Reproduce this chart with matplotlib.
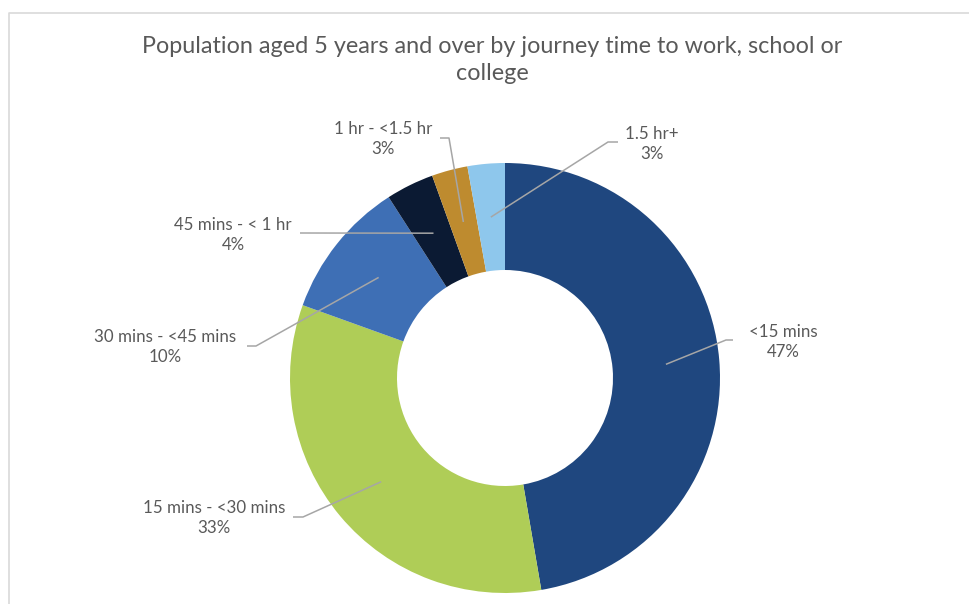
import matplotlib
matplotlib.use("Agg")
import matplotlib.pyplot as plt
import numpy as np

# journey time shares (%)
categories = ["<15 mins", "15 mins - <30 mins", "30 mins - <45 mins",
              "45 mins - < 1 hr", "1 hr - <1.5 hr", "1.5 hr+"]
shares = [47.3, 33.2, 10.4, 3.6, 2.7, 2.8]
colors = ["#1F477F", "#AFCD57", "#3E6FB5", "#0B1A33", "#BE8B2F", "#8EC7EC"]
title = "Population aged 5 years and over by journey time to work, school or\ncollege"

W, H = 970, 604
cx, cy = 505, 378     # donut centre (pixels from top-left)
r_out, r_in = 215, 108

# label text position and elbow of the leader line (pixels from top-left)
label_pos = [(783, 342), (214, 518), (165, 347), (233, 235), (383, 139), (652, 144)]
elbow = [[(733, 340), (726, 340)],
         [(293, 517), (303, 517)],
         [(247, 346), (256, 346)],
         [(300, 233)],
         [(440, 138), (449, 138)],
         [(618, 142), (608, 142)]]

plt.rcParams['font.family'] = ['Lato', 'DejaVu Sans']
fig = plt.figure(figsize=(W / 100, H / 100), dpi=100)
ax = fig.add_axes([0, 0, 1, 1])


def py(y):
    return H - y


wedges, _ = ax.pie(shares, colors=colors, startangle=90, counterclock=False,
                   radius=r_out, center=(cx, py(cy)),
                   wedgeprops=dict(width=r_out - r_in, linewidth=0))

r_mid = (r_out + r_in) / 2
for w, name, val, (lx, ly), pts in zip(wedges, categories, shares, label_pos, elbow):
    ang = np.deg2rad((w.theta1 + w.theta2) / 2)
    ex, ey = cx + r_mid * np.cos(ang), py(cy) + r_mid * np.sin(ang)
    xs = [p[0] for p in pts] + [ex]
    ys = [py(p[1]) for p in pts] + [ey]
    ax.plot(xs, ys, color="#A6A6A6", lw=1.1, solid_capstyle="butt")
    ax.text(lx, py(ly), f"{name}\n{round(val)}%", ha="center", va="center",
            fontsize=12.2, color="#595959", linespacing=1.3)

ax.text(492, py(60), title, ha="center", va="center", fontsize=16.8,
        color="#595959", linespacing=1.3)

# chart frame (cut by the picture edge at right and bottom)
ax.plot([9.5, 9.5, W + 5], [-5, py(12.5), py(12.5)], color="#D9D9D9", lw=1.2)

ax.set_xlim(0, W)
ax.set_ylim(0, H)
ax.axis("off")
fig.savefig("out.png", dpi=100, facecolor="white")
